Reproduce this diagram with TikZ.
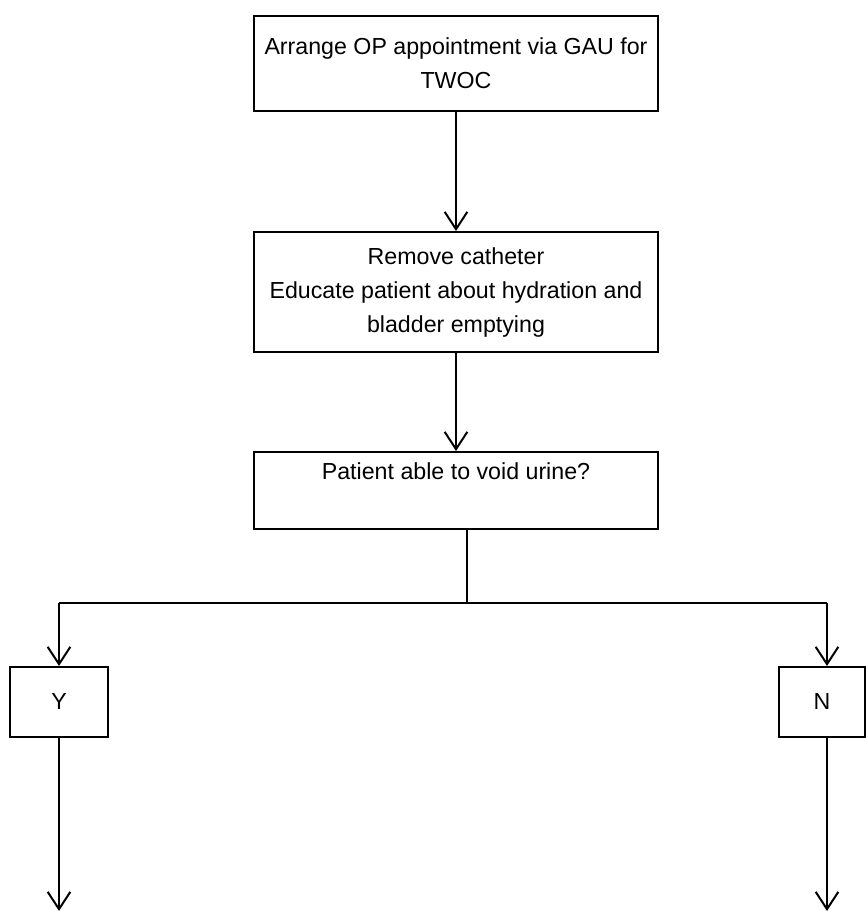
\documentclass[tikz,border=0pt]{standalone}
\usepackage{fontspec}
\setmainfont{Liberation Sans}
\usetikzlibrary{arrows.meta}
\begin{document}
\begin{tikzpicture}[x=0.75pt,y=-0.75pt,
  line width=1.5pt,
  box/.style={draw, line width=1.5pt, rectangle, inner sep=0pt, align=center,
    font=\fontsize{17.4}{25.5}\selectfont},
  arr/.style={-{Straight Barb[length=13pt,width=17pt,line width=1.5pt]}}]
\useasboundingbox (0,0) rectangle (865,911);

% process boxes
\node[box, minimum width=303pt, minimum height=71.25pt] (b1) at (456,63.5)
  {Arrange OP appointment via GAU for\\TWOC};
\node[box, minimum width=303pt, minimum height=90pt] (b2) at (456,292)
  {Remove catheter\\Educate patient about hydration and\\bladder emptying};
\node[box, anchor=north, minimum width=303pt, text height=20.25pt, text depth=37.5pt] (b3)
  at (456,451) {Patient able to void urine?};

% answer boxes
\node[box, minimum width=73.5pt, minimum height=52.5pt] (yb) at (59,702) {Y};
\node[box, minimum width=64.5pt, minimum height=52.5pt] (nb) at (822,702) {N};

% branch points and loose ends
\coordinate (j) at (467,603);
\coordinate (jl) at (59,603);
\coordinate (jr) at (827,603);
\coordinate (ye) at (59,911);
\coordinate (ne) at (827,911);

\draw[arr] (b1.south) -- (b2.north);
\draw[arr] (b2.south) -- (b3.north);
\draw (b3.south -| j) -- (j);
\draw (jl) -- (jr);
\draw[arr] (jl) -- (yb.north);
\draw[arr] (jr) -- (jr |- nb.north);
\draw[arr] (yb.south) -- (ye);
\draw[arr] (nb.south -| jr) -- (ne);
\end{tikzpicture}
\end{document}
